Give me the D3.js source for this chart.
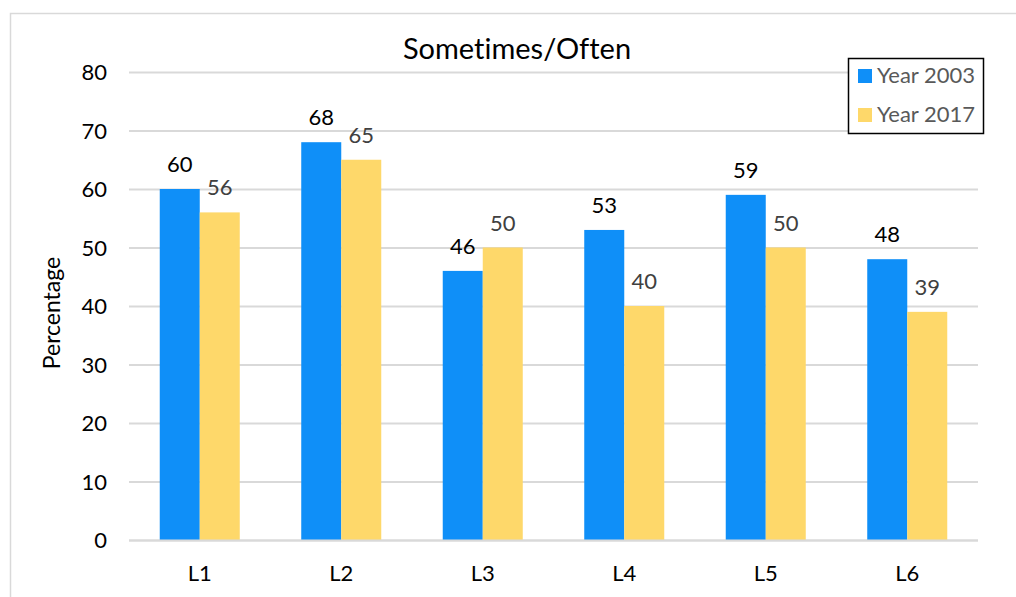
<!DOCTYPE html>
<html>
<head>
<meta charset="utf-8">
<script src="https://cdn.jsdelivr.net/npm/d3@7/dist/d3.min.js"></script>
<style>
  html, body { margin: 0; padding: 0; background: #fff; }
  svg { display: block; font-family: Lato, "Open Sans", sans-serif; font-variant-ligatures: none; }
</style>
</head>
<body>
<svg id="chart" width="1016" height="597"></svg>
<script>
// Sometimes/Often — percentage by level, 2003 vs 2017
const categories = ["L1", "L2", "L3", "L4", "L5", "L6"];
const seriesNames = ["Year 2003", "Year 2017"];
const year2003 = [60, 68, 46, 53, 59, 48];
const year2017 = [56, 65, 50, 40, 50, 39];
const yTicks = [0, 10, 20, 30, 40, 50, 60, 70, 80];

const colors = ["#0f8ff8", "#fed86a"];
const labelColors = ["#000000", "#404040"];

const svg = d3.select("#chart");
const W = 1016, H = 597;
const fontSize = 22;

// outer frame
svg.append("rect")
  .attr("x", 10.5).attr("y", 13.5)
  .attr("width", W + 10).attr("height", H + 10)
  .attr("fill", "#fff").attr("stroke", "#d9d9d9").attr("stroke-width", 1.5);

const plot = { left: 129, right: 978, top: 72, bottom: 540 };

const x = d3.scaleBand()
  .domain(categories)
  .range([plot.left, plot.right])
  .paddingInner(0.4346)
  .paddingOuter(0.2173);

const xSub = d3.scaleBand()
  .domain(seriesNames)
  .range([0, x.bandwidth()]);

const y = d3.scaleLinear()
  .domain([0, 80])
  .range([plot.bottom, plot.top]);

// horizontal gridlines
svg.append("g")
  .selectAll("line")
  .data(yTicks)
  .join("line")
  .attr("x1", plot.left).attr("x2", plot.right)
  .attr("y1", d => y(d) + 0.5).attr("y2", d => y(d) + 0.5)
  .attr("stroke", "#d9d9d9").attr("stroke-width", 2);

// y tick labels
const yAxis = d3.axisLeft(y).tickValues(yTicks).tickSize(0).tickPadding(0);
const gy = svg.append("g")
  .attr("transform", `translate(${plot.left - 22},0)`)
  .call(yAxis);
gy.select(".domain").remove();
gy.selectAll("text")
  .attr("font-family", "Lato, sans-serif")
  .attr("font-size", fontSize)
  .attr("fill", "#000")
  .attr("dy", "0.36em");

// x category labels
const xAxis = d3.axisBottom(x).tickSize(0).tickPadding(0);
const gx = svg.append("g")
  .attr("transform", `translate(0,${plot.bottom})`)
  .call(xAxis);
gx.select(".domain").remove();
gx.selectAll("text")
  .attr("font-family", "Lato, sans-serif")
  .attr("font-size", fontSize)
  .attr("fill", "#000")
  .attr("y", 41)
  .attr("dy", 0);

// bars
const rows = categories.map((c, i) => ({ cat: c, vals: [year2003[i], year2017[i]] }));

const groups = svg.append("g")
  .selectAll("g")
  .data(rows)
  .join("g")
  .attr("transform", d => `translate(${x(d.cat)},0)`);

groups.selectAll("rect")
  .data(d => d.vals.map((v, j) => ({ v, j })))
  .join("rect")
  .attr("x", d => xSub(seriesNames[d.j]))
  .attr("y", d => y(d.v))
  .attr("width", xSub.bandwidth())
  .attr("height", d => y(0) - y(d.v))
  .attr("fill", d => colors[d.j]);

groups.selectAll("text")
  .data(d => d.vals.map((v, j) => ({ v, j })))
  .join("text")
  .attr("x", d => xSub(seriesNames[d.j]) + xSub.bandwidth() / 2)
  .attr("y", d => y(d.v) - 17)
  .attr("text-anchor", "middle")
  .attr("font-size", fontSize)
  .attr("fill", d => labelColors[d.j])
  .text(d => d.v);

// axis baseline
svg.append("line")
  .attr("x1", plot.left).attr("x2", plot.right)
  .attr("y1", plot.bottom + 0.5).attr("y2", plot.bottom + 0.5)
  .attr("stroke", "#d9d9d9").attr("stroke-width", 2);

// title
svg.append("text")
  .attr("x", 517).attr("y", 59)
  .attr("text-anchor", "middle")
  .attr("font-size", 29)
  .attr("fill", "#000")
  .text("Sometimes/Often");

// y axis title
svg.append("text")
  .attr("transform", "translate(60,313) rotate(-90)")
  .attr("text-anchor", "middle")
  .attr("font-size", 23)
  .attr("fill", "#000")
  .text("Percentage");

// legend
const legend = svg.append("g").attr("transform", "translate(848,58)");
legend.append("rect")
  .attr("x", 0.5).attr("y", 0.5)
  .attr("width", 135).attr("height", 75)
  .attr("fill", "#fff").attr("stroke", "#000").attr("stroke-width", 1.5);
const items = legend.selectAll("g.item")
  .data(seriesNames)
  .join("g")
  .attr("class", "item")
  .attr("transform", (d, i) => `translate(0,${i * 39})`);
items.append("rect")
  .attr("x", 10).attr("y", 11)
  .attr("width", 14).attr("height", 14)
  .attr("fill", (d, i) => colors[i]);
items.append("text")
  .attr("x", 29).attr("y", 25)
  .attr("font-size", fontSize)
  .attr("fill", "#595959")
  .text(d => d);
</script>
</body>
</html>
